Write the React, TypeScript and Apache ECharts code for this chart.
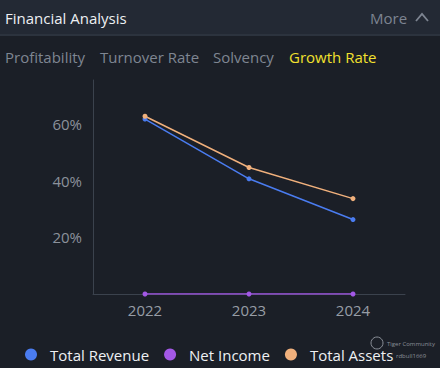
import React, { useEffect, useRef } from "react";
import * as echarts from "echarts";

const years = ["2022", "2023", "2024"];
const totalRevenue = [61.8, 40.7, 26.3];
const netIncome = [0, 0, 0];
const totalAssets = [62.8, 44.7, 33.7];
const tabs = ["Profitability", "Turnover Rate", "Solvency", "Growth Rate"];
const tabX = [5, 100, 213, 289];

const FONT = "'Open Sans', 'Noto Sans', sans-serif";

export default function App() {
  const ref = useRef<HTMLDivElement>(null);
  useEffect(() => {
    const chart = echarts.init(ref.current!, null, { renderer: "svg" });
    const graphics: any[] = [
      { type: "rect", shape: { x: 0, y: 0, width: 440, height: 34 }, style: { fill: "#232934" }, silent: true },
      { type: "rect", shape: { x: 0, y: 34, width: 440, height: 2 }, style: { fill: "#2c333e" }, silent: true },
      { type: "text", x: 5, y: 18, style: { text: "Financial Analysis", fill: "#eef0f3", font: `15px ${FONT}`, textVerticalAlign: "middle" } },
      { type: "text", x: 370, y: 18, style: { text: "More", fill: "#7d8491", font: `15px ${FONT}`, textVerticalAlign: "middle" } },
      { type: "polyline", shape: { points: [[416, 21], [422, 14], [428, 21]] }, style: { stroke: "#7d8491", lineWidth: 1.8, fill: null } },
      ...tabs.map((t, i) => ({
        type: "text",
        x: tabX[i],
        y: 57,
        style: { text: t, fill: i === 3 ? "#f2e12e" : "#7f8692", font: `15px ${FONT}`, textVerticalAlign: "middle" },
      })),
      { type: "circle", shape: { cx: 377, cy: 343, r: 6 }, style: { stroke: "#8a8f98", fill: null, lineWidth: 1 } },
      { type: "text", x: 387, y: 344, style: { text: "Tiger Community", fill: "#8a8f98", font: `6px ${FONT}`, textVerticalAlign: "middle" } },
      { type: "text", x: 396, y: 356, style: { text: "rdbull1669", fill: "#8a8f98", font: `6px ${FONT}`, textVerticalAlign: "middle" }, z: -1 },
    ];
    chart.setOption({
      animation: false,
      backgroundColor: "#1b1f27",
      graphic: graphics,
      grid: { left: 93, right: 35, top: 80, bottom: 74 },
      xAxis: {
        type: "category",
        data: years,
        boundaryGap: true,
        axisLine: { lineStyle: { color: "#3b424d", width: 1 } },
        axisTick: { show: false },
        axisLabel: { color: "#979da6", fontSize: 15, fontFamily: FONT, margin: 8 },
      },
      yAxis: {
        type: "value",
        min: 0,
        max: 75.6,
        interval: 20,
        splitLine: { show: false },
        axisLine: { show: true, lineStyle: { color: "#3b424d", width: 1 } },
        axisTick: { show: false },
        axisLabel: {
          color: "#8b919b",
          fontSize: 15,
          fontFamily: FONT,
          margin: 11,
          formatter: (v: number) => (v === 0 || v % 20 !== 0 ? "" : v + "%"),
        },
      },
      legend: {
        left: 20,
        top: 342,
        icon: "circle",
        itemWidth: 12,
        itemHeight: 12,
        itemGap: 15,
        textStyle: { color: "#eef0f3", fontSize: 15, fontFamily: FONT, padding: [0, 0, 0, 8] },
        data: ["Total Revenue", "Net Income", "Total Assets"],
      },
      series: [
        {
          name: "Total Revenue",
          type: "line",
          data: totalRevenue,
          color: "#4a7cf0",
          symbol: "circle",
          symbolSize: 5,
          lineStyle: { width: 1.5 },
        },
        {
          name: "Net Income",
          type: "line",
          data: netIncome,
          color: "#a358e6",
          symbol: "circle",
          symbolSize: 5,
          lineStyle: { width: 1.5 },
        },
        {
          name: "Total Assets",
          type: "line",
          data: totalAssets,
          color: "#f0b07c",
          symbol: "circle",
          symbolSize: 5,
          lineStyle: { width: 1.5 },
        },
      ],
    });
    return () => chart.dispose();
  }, []);
  return <div ref={ref} style={{ position: "absolute", left: 0, top: 0, width: 440, height: 368 }} />;
}
